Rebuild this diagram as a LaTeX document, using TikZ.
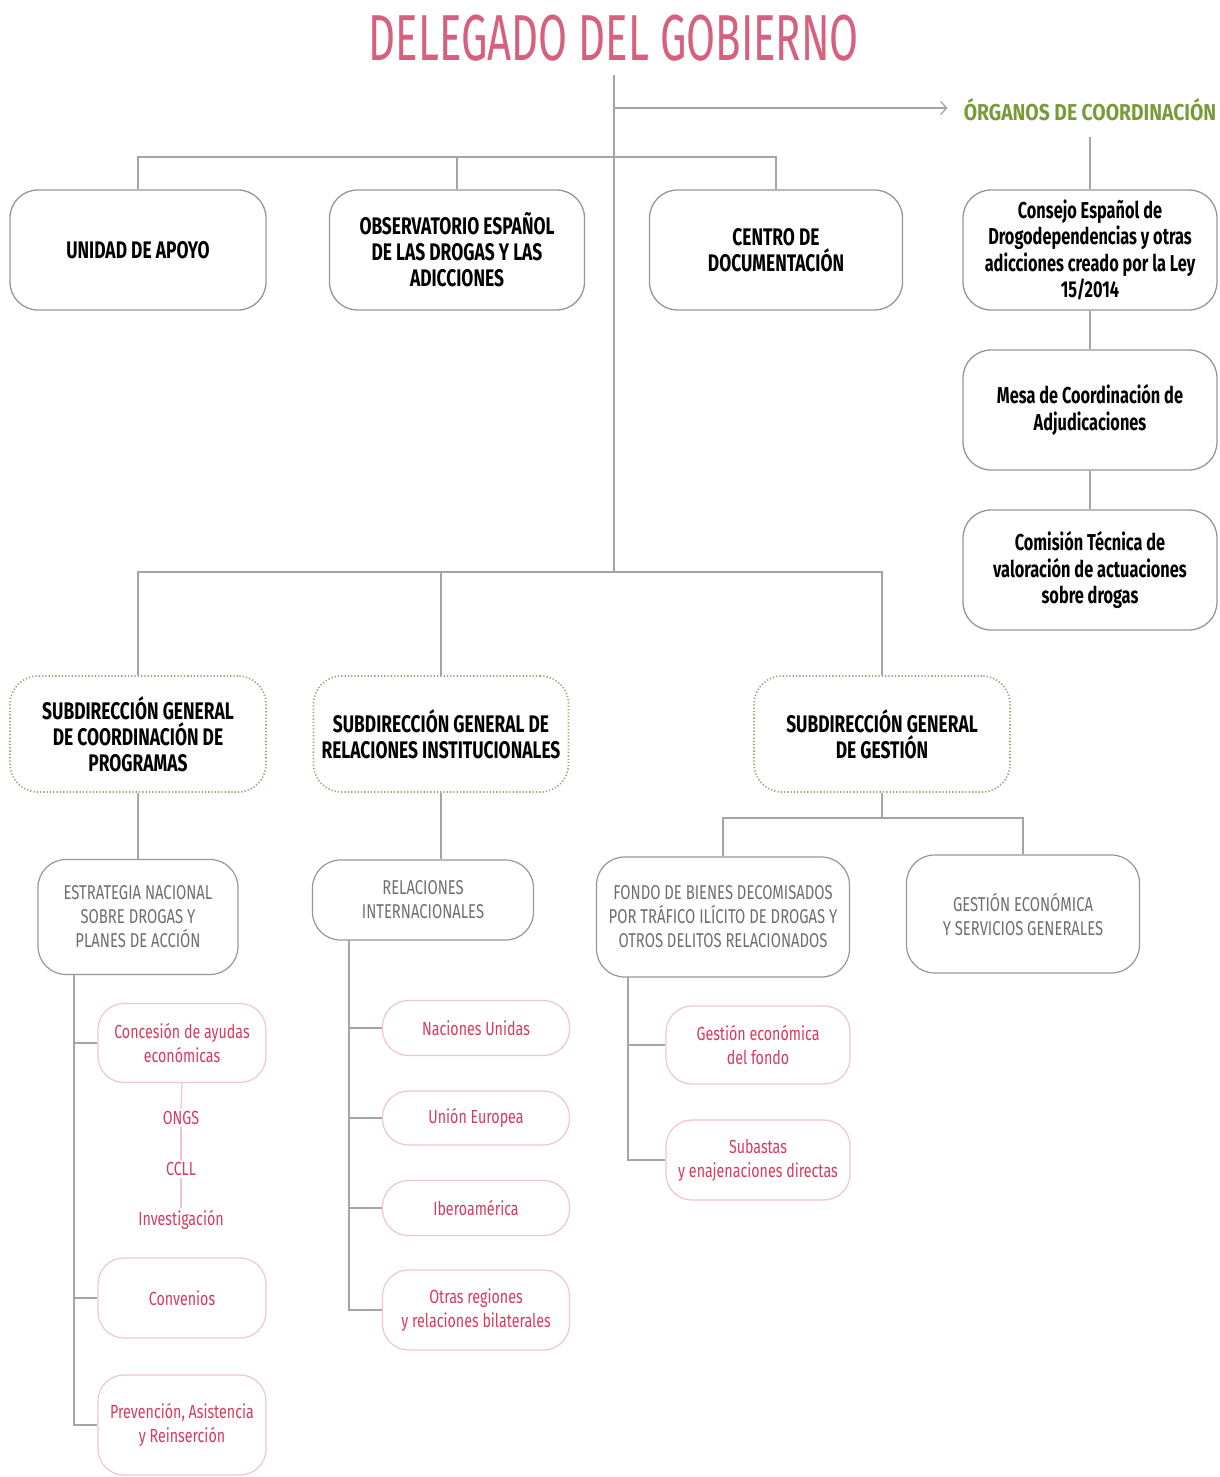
\documentclass[tikz,border=0pt]{standalone}
\usepackage{fontspec}
\setmainfont{Fira Sans}
\newfontfamily\ftitle[FakeStretch=0.645]{Fira Sans}
\newfontfamily\fcond[FakeStretch=0.725]{Fira Sans}
\newfontfamily\frc[FakeStretch=0.71]{Fira Sans}
\newfontfamily\fgray[FakeStretch=0.74]{Fira Sans}
\newfontfamily\fred[FakeStretch=0.75]{Fira Sans}
\newfontfamily\fgreen[FakeStretch=0.84]{Fira Sans}
\usetikzlibrary{arrows.meta}
\definecolor{titlepink}{RGB}{214,96,126}
\definecolor{orggreen}{RGB}{122,154,58}
\definecolor{boxgray}{RGB}{150,150,150}
\definecolor{linegray}{RGB}{165,165,165}
\definecolor{dotgreen}{RGB}{165,165,125}
\definecolor{redtext}{RGB}{214,58,92}
\definecolor{pinkborder}{RGB}{240,196,208}
\definecolor{graytext}{RGB}{110,110,110}
\tikzset{
  box/.style={draw=boxgray, line width=1.3pt, rounded corners=28pt, inner sep=0pt,
    align=center, text=black, font=\fcond\bfseries\fontsize{24}{26}\selectfont},
  rbox/.style={box, font=\frc\bfseries\fontsize{23}{26.5}\selectfont},
  subbox/.style={box, draw=dotgreen, dotted, line width=1.7pt},
  graybox/.style={draw=boxgray, line width=1.2pt, rounded corners=28pt, inner sep=0pt,
    align=center, text=graytext, font=\fgray\fontsize{20}{24}\selectfont},
  redbox/.style={draw=pinkborder, line width=1.2pt, rounded corners=26pt, inner sep=0pt,
    align=center, text=redtext, font=\fred\fontsize{19}{24}\selectfont},
  redtxt/.style={inner sep=2pt, text=redtext, font=\fred\fontsize{19}{24}\selectfont},
  conn/.style={draw=linegray, line width=1.3pt},
  pinkconn/.style={draw=pinkborder, line width=1.3pt}
}
\begin{document}
\begin{tikzpicture}[x=1pt,y=-1pt]
\useasboundingbox (0,0) rectangle (1219,1477);
% title
\node[text=titlepink, font=\ftitle\fontsize{65}{70}\selectfont, inner sep=0pt] (title) at (614,38) {DELEGADO DEL GOBIERNO};
\node[text=orggreen, font=\fgreen\bfseries\fontsize{23}{26}\selectfont, inner sep=0pt] (org) at (1090,110) {ÓRGANOS DE COORDINACIÓN};
% coordinates on the main trunk
\coordinate (t0) at (614,75);
\coordinate (j1) at (614,108);
\coordinate (j2) at (614,157);
\coordinate (j3) at (614,572);
% top row
\node[box, minimum width=256pt, minimum height=120pt] (unidad) at (138,250) {UNIDAD DE APOYO};
\node[box, minimum width=255pt, minimum height=120pt] (obs) at (457,250) {OBSERVATORIO ESPAÑOL\\DE LAS DROGAS Y LAS\\ADICCIONES};
\node[box, minimum width=253pt, minimum height=120pt] (centro) at (776,250) {CENTRO DE\\DOCUMENTACIÓN};
% right column
\node[rbox, minimum width=254pt, minimum height=120pt] (consejo) at (1090,250) {Consejo Español de\\Drogodependencias y otras\\adicciones creado por la Ley\\15/2014};
\node[rbox, minimum width=254pt, minimum height=120pt] (mesa) at (1090,410) {Mesa de Coordinación de\\Adjudicaciones};
\node[rbox, minimum width=254pt, minimum height=120pt] (comision) at (1090,570) {Comisión Técnica de\\valoración de actuaciones\\sobre drogas};
% subdirecciones
\node[subbox, minimum width=256pt, minimum height=116pt] (sg1) at (138,734) {SUBDIRECCIÓN GENERAL\\DE COORDINACIÓN DE\\PROGRAMAS};
\node[subbox, minimum width=255pt, minimum height=116pt] (sg2) at (441,734) {SUBDIRECCIÓN GENERAL DE\\RELACIONES INSTITUCIONALES};
\node[subbox, minimum width=256pt, minimum height=116pt] (sg3) at (882,734) {SUBDIRECCIÓN GENERAL\\DE GESTIÓN};
% third level
\node[graybox, minimum width=200pt, minimum height=115pt] (est) at (138,917) {ESTRATEGIA NACIONAL\\SOBRE DROGAS Y\\PLANES DE ACCIÓN};
\node[graybox, minimum width=221pt, minimum height=80pt] (relint) at (423,900) {RELACIONES\\INTERNACIONALES};
\node[graybox, minimum width=253pt, minimum height=120pt] (fondo) at (723,917) {FONDO DE BIENES DECOMISADOS\\POR TRÁFICO ILÍCITO DE DROGAS Y\\OTROS DELITOS RELACIONADOS};
\node[graybox, minimum width=233pt, minimum height=118pt] (gest) at (1023,914) {GESTIÓN ECONÓMICA\\Y SERVICIOS GENERALES};
% estrategia children
\node[redbox, minimum width=168pt, minimum height=79pt] (conc) at (182,1043) {Concesión de ayudas\\económicas};
\node[redtxt] (ongs) at (181,1118) {ONGS};
\node[redtxt] (ccll) at (181,1169) {CCLL};
\node[redtxt] (inv) at (181,1220) {Investigación};
\node[redbox, minimum width=168pt, minimum height=80pt] (conv) at (182,1298) {Convenios};
\node[redbox, minimum width=168pt, minimum height=100pt] (prev) at (182,1425) {Prevención, Asistencia\\y Reinserción};
% relaciones children
\node[redbox, minimum width=187pt, minimum height=55pt] (nu) at (476,1028) {Naciones Unidas};
\node[redbox, minimum width=187pt, minimum height=54pt] (ue) at (476,1118) {Unión Europea};
\node[redbox, minimum width=187pt, minimum height=55pt] (ibero) at (476,1208) {Iberoamérica};
\node[redbox, minimum width=187pt, minimum height=80pt] (otras) at (476,1310) {Otras regiones\\y relaciones bilaterales};
% fondo children
\node[redbox, minimum width=184pt, minimum height=78pt] (gef) at (758,1045) {Gestión económica\\del fondo};
\node[redbox, minimum width=184pt, minimum height=80pt] (sub) at (758,1160) {Subastas\\y enajenaciones directas};
% ---- connectors ----
\draw[conn] (t0) -- (j3);
\draw[conn, -{Straight Barb[length=6pt,width=13pt,line width=1.3pt]}] (j1) -- ([xshift=-16pt]org.west |- j1);
\draw[conn, shorten <=16pt] (org.south) -- (consejo.north);
\draw[conn] (consejo.south) -- (mesa.north);
\draw[conn] (mesa.south) -- (comision.north);
\draw[conn] (unidad.north) |- (centro.north |- j2) -- (centro.north);
\draw[conn] (obs.north) -- (obs.north |- j2);
\draw[conn] (sg1.north) |- (sg3.north |- j3) -- (sg3.north);
\draw[conn] (sg2.north) -- (sg2.north |- j3);
\draw[conn] (sg1.south) -- (est.north);
\draw[conn] (sg2.south) -- (sg2.south |- relint.north);
\coordinate (j4) at (882,818);
\draw[conn] (sg3.south) -- (j4);
\draw[conn] (fondo.north) |- (gest.north |- j4) -- (gest.north);
% estrategia branch
\coordinate (e0) at (74,975);
\draw[conn] (e0) |- (prev.west);
\draw[conn] (conc.west) -- (conc.west -| e0);
\draw[conn] (conv.west) -- (conv.west -| e0);
\draw[pinkconn] (conc.south) -- (ongs.north);
\draw[pinkconn] (ongs.south) -- (ccll.north);
\draw[pinkconn] (ccll.south) -- (inv.north);
% relaciones branch
\coordinate (r0) at (349,940);
\draw[conn] (r0) |- (otras.west);
\draw[conn] (nu.west) -- (nu.west -| r0);
\draw[conn] (ue.west) -- (ue.west -| r0);
\draw[conn] (ibero.west) -- (ibero.west -| r0);
% fondo branch
\coordinate (f0) at (628,977);
\draw[conn] (f0) |- (sub.west);
\draw[conn] (gef.west) -- (gef.west -| f0);
\end{tikzpicture}
\end{document}
